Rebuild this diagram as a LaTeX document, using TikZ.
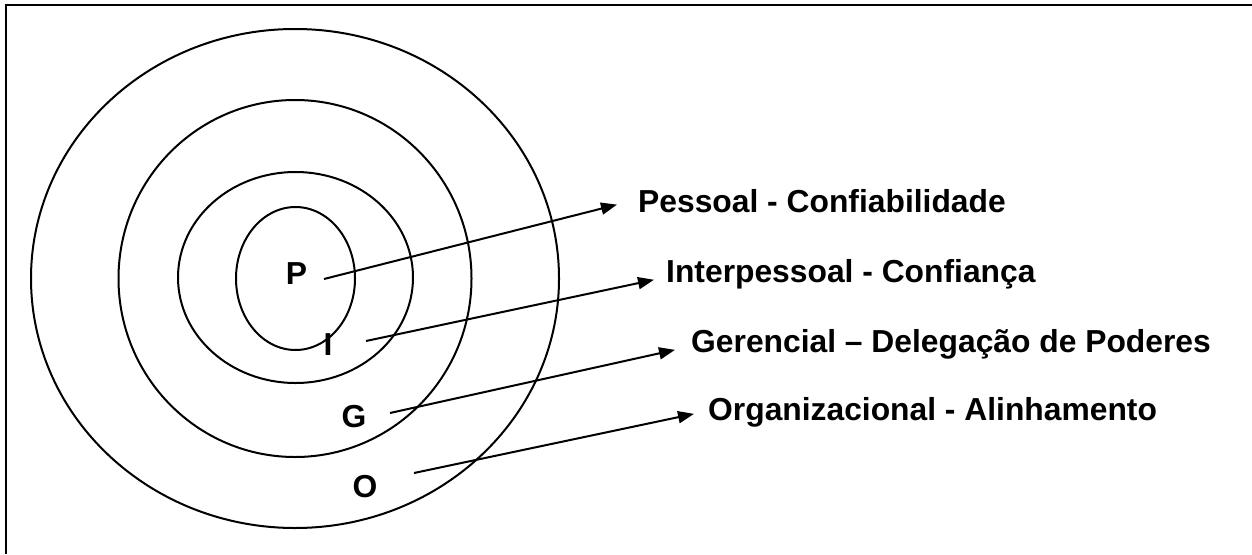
\documentclass[tikz,border=0pt]{standalone}
\usepackage{fontspec}
\setmainfont{Liberation Sans}
\usetikzlibrary{arrows.meta}
\begin{document}
\begin{tikzpicture}[x=1pt,y=-1pt,
  ring/.style={line width=2pt},
  lbl/.style={font=\fontsize{31.8}{38}\selectfont\bfseries, inner sep=0pt, anchor=base west},
  letter/.style={font=\fontsize{31.8}{38}\selectfont\bfseries, inner sep=0pt, anchor=base},
  pointer/.style={line width=2pt, -{Triangle[length=16pt,width=12pt]}}]
  \useasboundingbox (0,0) rectangle (1252,554);
  % frame (top and left edges)
  \draw[line width=2.2pt] (1252,5) -- (6,5) -- (6,554);
  % nested levels
  \draw[ring] (295,278.5) ellipse [x radius=264, y radius=249.5];
  \draw[ring] (295,278.5) ellipse [x radius=176.5, y radius=178.5];
  \draw[ring] (295.5,277.5) ellipse [x radius=117.5, y radius=105.5];
  \draw[ring] (295.5,278.5) ellipse [x radius=59.5, y radius=71.5];
  % level letters
  \node[letter] (P) at (296.5,284) {P};
  \node[letter] (I) at (328,355) {I};
  \node[letter] (G) at (354,427) {G};
  \node[letter] (O) at (365,497) {O};
  % level descriptions
  \node[lbl] (tP) at (638,212) {Pessoal - Confiabilidade};
  \node[lbl] (tI) at (666,282) {Interpessoal - Confiança};
  \node[lbl] (tG) at (691,352) {Gerencial – Delegação de Poderes};
  \node[lbl] (tO) at (708,420) {Organizacional - Alinhamento};
  % pointer ends
  \coordinate (sP) at (324,279);
  \coordinate (sI) at (366,341);
  \coordinate (sG) at (390,413);
  \coordinate (sO) at (414,473);
  \coordinate (eP) at ([xshift=-21pt,yshift=-4pt]tP.west);
  \coordinate (eI) at ([xshift=-12pt,yshift=-6pt]tI.west);
  \coordinate (eG) at ([xshift=-16pt,yshift=-6pt]tG.west);
  \coordinate (eO) at ([xshift=-14pt,yshift=-2pt]tO.west);
  \draw[pointer] (sP) -- (eP);
  \draw[pointer] (sI) -- (eI);
  \draw[pointer] (sG) -- (eG);
  \draw[pointer] (sO) -- (eO);
\end{tikzpicture}
\end{document}
